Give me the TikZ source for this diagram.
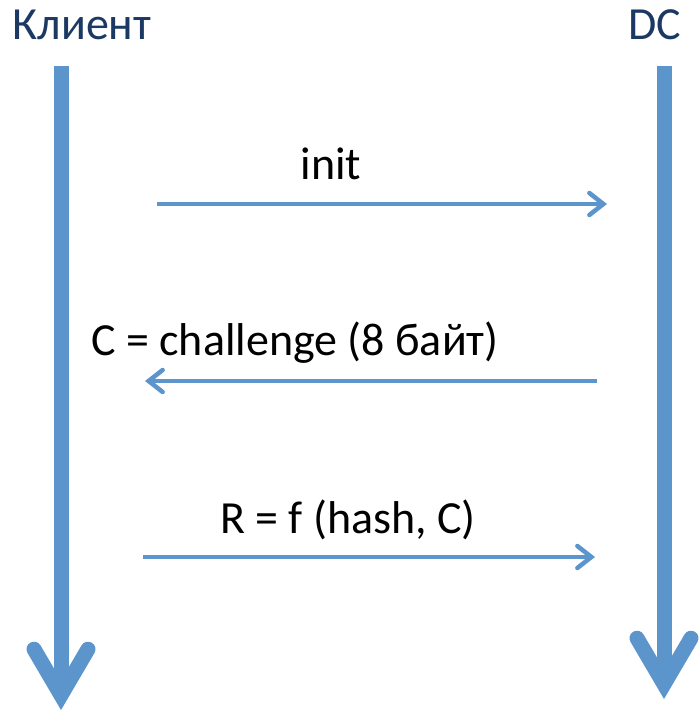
\documentclass[tikz,border=0pt]{standalone}
\usepackage{fontspec}
\setmainfont{Carlito}
\usetikzlibrary{arrows.meta,positioning}

\definecolor{flowblue}{RGB}{92,148,204}
\definecolor{titleblue}{RGB}{27,57,98}

\begin{document}
\begin{tikzpicture}[x=1pt, y=-1pt,
    lifeline/.style={draw=flowblue, line width=15pt, line cap=butt,
      -{Straight Barb[length=46pt, width=54pt, line cap=round]}},
    message/.style={draw=flowblue, line width=4.5pt,
      -{Straight Barb[length=14pt, width=22pt, line cap=round]}},
    party/.style={text=titleblue, anchor=base, inner sep=0pt,
      font=\fontsize{46}{52}\selectfont},
    msglabel/.style={anchor=base, inner sep=0pt,
      font=\fontsize{46}{52}\selectfont}]
  \useasboundingbox (0,0) rectangle (700,712);

  % participants
  \node[party] (client) at (82,39) {Клиент};
  \node[party] (dc) at (655,39) {DC};

  \coordinate (client top) at (61,66);
  \coordinate (client end) at (61,710);
  \coordinate (dc top) at (664,66);
  \coordinate (dc end) at (664,699);

  \draw[lifeline] (client top) -- (client end);
  \draw[lifeline] (dc top) -- (dc end);

  % messages
  \node[msglabel] (init) at (331,179) {init};
  \coordinate (init from) at (157,204);
  \coordinate (init to) at (607,204);
  \draw[message] (init from) -- (init to);

  \node[msglabel] (challenge) at (295,355) {C = challenge (8 байт)};
  \coordinate (challenge from) at (597,381);
  \coordinate (challenge to) at (145,381);
  \draw[message] (challenge from) -- (challenge to);

  \node[msglabel] (response) at (348,533) {R = f (hash, C)};
  \coordinate (response from) at (143,557);
  \coordinate (response to) at (595,557);
  \draw[message] (response from) -- (response to);
\end{tikzpicture}
\end{document}
